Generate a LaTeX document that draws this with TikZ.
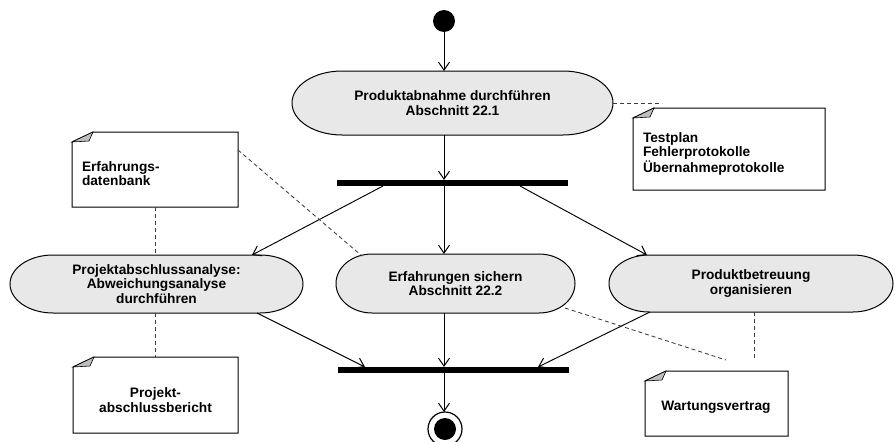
\documentclass[tikz,border=0pt]{standalone}
\usepackage{fontspec}
\setmainfont{Liberation Sans}
\usetikzlibrary{arrows.meta,calc}
\pgfdeclarelayer{background}
\pgfsetlayers{background,main}
\definecolor{stadfill}{RGB}{232,232,232}
\definecolor{foldgray}{RGB}{190,190,190}
\definecolor{dashgray}{RGB}{60,60,60}
\tikzset{
  every node/.style={inner sep=0pt,outer sep=0pt},
  txt/.style={font=\fontsize{13.7}{14.6}\selectfont\bfseries,align=center},
  txtl/.style={font=\fontsize{13.7}{14.2}\selectfont\bfseries,align=left},
  stadnode/.style={rectangle,txt,minimum width=#1},
  stadstyle/.style={draw=black,line width=1pt,fill=stadfill},
  barnode/.style={rectangle,fill=black,minimum height=6pt},
  boxnode/.style={rectangle},
  noteline/.style={draw=black,line width=1pt,fill=white},
  notefold/.style={draw=black,line width=0.6pt,fill=foldgray},
  flow/.style={draw=black,line width=0.95pt,-{Straight Barb[length=8pt,width=11pt,line width=1pt]}},
  anchorline/.style={draw=dashgray,line width=0.85pt,dash pattern=on 4pt off 3pt},
}
\newcommand\stadium[3]{%
  \begin{pgfonlayer}{background}
  \draw[stadstyle] ([xshift=#2]#1.north west) -- ([xshift=-#2]#1.north east)
    arc[start angle=90,end angle=-90,x radius=#2,y radius=#3]
    -- ([xshift=#2]#1.south west)
    arc[start angle=270,end angle=90,x radius=#2,y radius=#3] -- cycle;
  \end{pgfonlayer}}
\newcommand\notebox[1]{%
  \begin{pgfonlayer}{background}
  \draw[noteline] ([xshift=21pt]#1.north west) -- (#1.north east) -- (#1.south east)
    -- (#1.south west) -- ([yshift=-10pt]#1.north west) -- cycle;
  \draw[notefold] ([xshift=21pt]#1.north west) -- ([yshift=-10pt]#1.north west)
    -- ([xshift=17pt,yshift=-9pt]#1.north west) -- cycle;
  \end{pgfonlayer}}
\begin{document}
\begin{tikzpicture}[x=1pt,y=-1pt]
\useasboundingbox (0,0) rectangle (895,442);

% start / end
\node[circle,fill=black,minimum size=22pt] (start) at (444,21) {};
\node[circle,draw=black,line width=1.2pt,minimum size=34pt] (endo) at (445,429) {};
\node[circle,fill=black,minimum size=22pt] (endi) at (445,429) {};

% activities
\node[stadnode=321pt,minimum height=64pt] (PA) at (452.5,103) {Produktabnahme durchführen\\Abschnitt 22.1};
\stadium{PA}{50pt}{32pt}
\node[stadnode=293pt,minimum height=58pt] (PAA) at (156.5,284) {Projektabschlussanalyse:\\Abweichungsanalyse\\durchführen};
\stadium{PAA}{43pt}{29pt}
\node[stadnode=239pt,minimum height=59pt] (ES) at (455.5,283.5) {Erfahrungen sichern\\Abschnitt 22.2};
\stadium{ES}{36pt}{29.5pt}
\node[stadnode=284pt,minimum height=57pt] (PB) at (751,283.5) {Produktbetreuung\\organisieren};
\stadium{PB}{40pt}{28.5pt}

% bars
\node[barnode,minimum width=231pt] (fork) at (452.5,183) {};
\node[barnode,minimum width=231pt] (join) at (453.5,370) {};

% notes
\node[boxnode,minimum width=192pt,minimum height=82pt] (nTP) at (729,149) {};
\notebox{nTP}
\node[txtl,anchor=west] (tTP) at (643,154) {Testplan\\Fehlerprotokolle\\Übernahmeprotokolle};
\node[boxnode,minimum width=166pt,minimum height=75pt] (nDB) at (155,169.5) {};
\notebox{nDB}
\node[txtl,anchor=west] (tDB) at (82,174) {Erfahrungs-\\datenbank};
\node[boxnode,minimum width=165pt,minimum height=76pt] (nPB) at (155.5,395) {};
\notebox{nPB}
\node[txt] (tPB) at (155.5,400) {Projekt-\\abschlussbericht};
\node[boxnode,minimum width=143pt,minimum height=65pt] (nWV) at (716.5,403.5) {};
\notebox{nWV}
\node[txt] (tWV) at (716,407) {Wartungsvertrag};

% free ends of dashed anchors
\coordinate (cTP) at (662,103);
\coordinate (cWV1) at (726,360);
\coordinate (cWV2) at (754,359);

% control flow
\draw[flow] (start.south) -- (start.south |- PA.north);
\draw[flow] (PA.south -| start) -- (fork.north -| start);
\draw[flow] ([xshift=46pt]fork.south west) -- ([xshift=242pt]PAA.north west);
\draw[flow] (fork.south -| start) -- (ES.north -| start);
\draw[flow] ([xshift=183pt]fork.south west) -- ([xshift=38pt]PB.north west);
\draw[flow] ([xshift=247pt]PAA.south west) -- ([xshift=27pt]join.north west);
\draw[flow] (ES.south -| start) -- (join.north -| start);
\draw[flow] ([xshift=41pt]PB.south west) -- ([xshift=200pt]join.north west);
\draw[flow] (join.south -| start) -- (endo.north -| start);

% note anchors
\draw[anchorline] (PA.east) -- (cTP);
\draw[anchorline] (nDB.south) -- (nDB.south |- PAA.north);
\draw[anchorline] ([yshift=-18pt]nDB.north east) -- ([xshift=26pt,yshift=-2pt]ES.north west);
\draw[anchorline] (PAA.south -| nDB.south) -- (nPB.north -| nDB.south);
\draw[anchorline] ([xshift=-10pt,yshift=5pt]ES.south east) -- (cWV1);
\draw[anchorline] (PB.south -| cWV2) -- (cWV2);
\end{tikzpicture}
\end{document}
